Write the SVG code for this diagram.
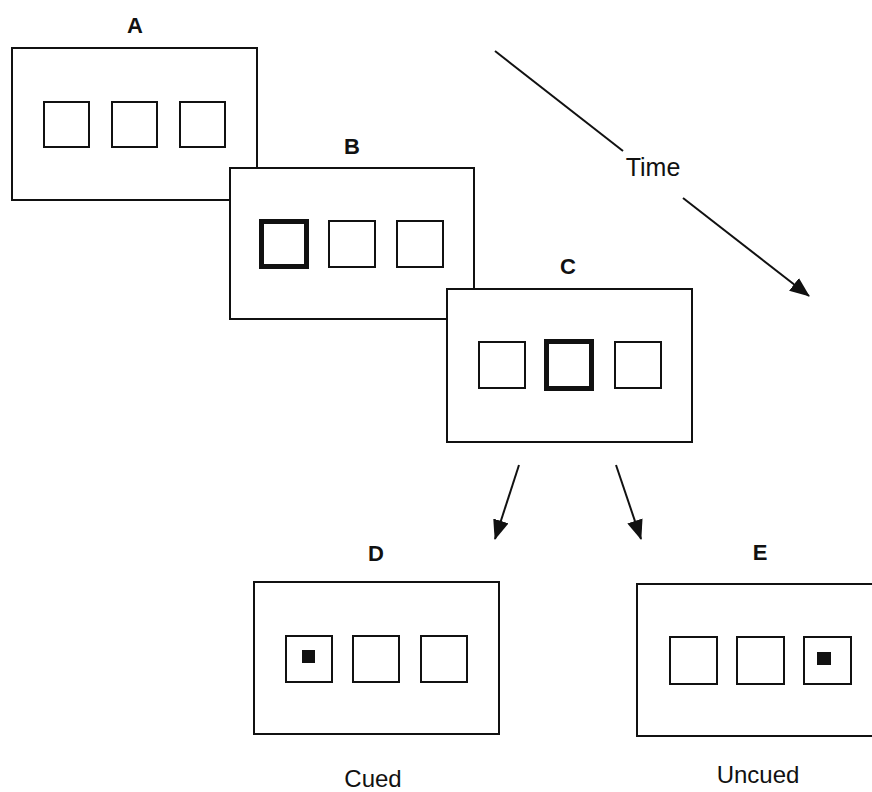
<svg xmlns="http://www.w3.org/2000/svg" width="872" height="792" viewBox="0 0 872 792">
<style>
.frame{fill:#fff;stroke:#111;stroke-width:2}
.box{fill:none;stroke:#111;stroke-width:2}
.cue{fill:none;stroke:#111;stroke-width:5}
.dot{fill:#111}
.lbl{font-family:"Liberation Sans",Arial,sans-serif;font-weight:bold;font-size:22px;fill:#111;text-anchor:middle}
.txt{font-family:"Liberation Sans",Arial,sans-serif;font-size:24px;fill:#111;text-anchor:middle}
.conn{stroke:#111;stroke-width:2;fill:none}
</style>
<defs>
<marker id="ah" markerUnits="userSpaceOnUse" markerWidth="20" markerHeight="16" refX="19" refY="8" orient="auto">
<path d="M0,0 L20,8 L0,16 Z" fill="#111"/>
</marker>
</defs>
<rect width="872" height="792" fill="#fff"/>
<g id="A">
<text class="lbl" x="135" y="33">A</text>
<rect class="frame" x="12" y="48" width="245" height="152"/>
<rect class="box" x="44" y="102" width="45" height="45"/>
<rect class="box" x="112" y="102" width="45" height="45"/>
<rect class="box" x="180" y="102" width="45" height="45"/>
</g>
<g id="B">
<text class="lbl" x="352" y="154">B</text>
<rect class="frame" x="230" y="168" width="244" height="151"/>
<rect class="cue" x="261.5" y="221.5" width="45" height="45"/>
<rect class="box" x="329" y="221" width="46" height="46"/>
<rect class="box" x="397" y="221" width="46" height="46"/>
</g>
<g id="C">
<text class="lbl" x="568" y="274">C</text>
<rect class="frame" x="447" y="289" width="245" height="153"/>
<rect class="box" x="479" y="342" width="46" height="46"/>
<rect class="cue" x="546.5" y="341.5" width="45" height="47"/>
<rect class="box" x="615" y="342" width="46" height="46"/>
</g>
<g id="D">
<text class="lbl" x="376" y="561">D</text>
<rect class="frame" x="254" y="582" width="245" height="152"/>
<rect class="box" x="286" y="636" width="46" height="46"/>
<rect class="dot" x="302" y="650" width="13" height="13"/>
<rect class="box" x="353" y="636" width="46" height="46"/>
<rect class="box" x="421" y="636" width="46" height="46"/>
<text class="txt" x="373" y="787">Cued</text>
</g>
<g id="E">
<text class="lbl" x="760" y="560">E</text>
<rect class="frame" x="637" y="584" width="245" height="152"/>
<rect class="box" x="670" y="637" width="47" height="47"/>
<rect class="box" x="737" y="637" width="47" height="47"/>
<rect class="box" x="804" y="637" width="47" height="47"/>
<rect class="dot" x="817" y="652" width="14" height="13"/>
<text class="txt" x="758" y="783">Uncued</text>
</g>
<g id="time">
<text class="txt" x="653" y="176" style="font-size:25px">Time</text>
</g>
<g id="connectors">
<line class="conn" x1="495" y1="51" x2="623" y2="151"/>
<line class="conn" x1="683" y1="198" x2="809" y2="296" marker-end="url(#ah)"/>
<line class="conn" x1="519" y1="465" x2="495" y2="539" marker-end="url(#ah)"/>
<line class="conn" x1="616" y1="465" x2="641" y2="539" marker-end="url(#ah)"/>
</g>
</svg>
